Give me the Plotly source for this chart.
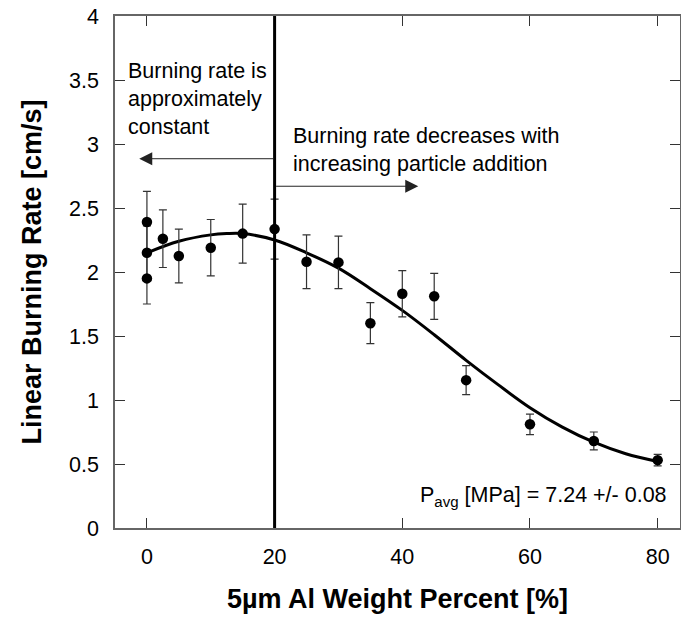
import plotly.graph_objects as go

# measured points
al_pct = [0, 0, 0, 2.5, 5, 10, 15, 20, 25, 30, 35, 40, 45, 50, 60, 70, 80]
rate = [2.39, 2.15, 1.95, 2.26, 2.125, 2.19, 2.30, 2.335, 2.08, 2.075, 1.60, 1.83, 1.81, 1.155, 0.81, 0.68, 0.53]
rate_err = [0.24, 0.21, 0.20, 0.225, 0.21, 0.22, 0.23, 0.235, 0.21, 0.205, 0.16, 0.18, 0.18, 0.113, 0.08, 0.07, 0.045]

# fitted trend
fit_x = [0, 5, 10, 12.5, 15, 20, 25, 30, 35, 40, 45, 50, 55, 60, 65, 70, 75, 80]
fit_y = [2.15, 2.24, 2.29, 2.30, 2.30, 2.25, 2.15, 2.03, 1.87, 1.70, 1.51, 1.31, 1.12, 0.94, 0.79, 0.67, 0.58, 0.52]

font = "Arial, Liberation Sans, sans-serif"

fig = go.Figure()
fig.add_trace(go.Scatter(x=fit_x, y=fit_y, mode="lines", line=dict(color="black", width=3, shape="spline"),
                         hoverinfo="skip"))
fig.add_trace(go.Scatter(x=al_pct, y=rate, mode="markers",
                         marker=dict(color="black", size=10.5),
                         error_y=dict(type="data", array=rate_err, color="#333", thickness=1.2, width=4)))

fig.add_shape(type="line", x0=20, x1=20, y0=0, y1=4, xref="x", yref="y",
              line=dict(color="black", width=3))

# region arrows, starting at the 20 % divider
fig.add_annotation(x=-1.2, y=2.885, ax=20, ay=2.885, xref="x", yref="y", axref="x", ayref="y",
                   text="", showarrow=True, arrowhead=2, arrowsize=2.6, arrowwidth=1, arrowcolor="#222")
fig.add_annotation(x=42.5, y=2.67, ax=20, ay=2.67, xref="x", yref="y", axref="x", ayref="y",
                   text="", showarrow=True, arrowhead=2, arrowsize=2.6, arrowwidth=1, arrowcolor="#222")

fig.add_annotation(x=-3.2, y=3.35, xref="x", yref="y", xanchor="left", yanchor="middle", align="left",
                   text="Burning rate is<br>approximately<br>constant", showarrow=False,
                   font=dict(family=font, size=21.5, color="black"))
fig.add_annotation(x=22.6, y=2.955, xref="x", yref="y", xanchor="left", yanchor="middle", align="left",
                   text="Burning rate decreases with<br>increasing particle addition", showarrow=False,
                   font=dict(family=font, size=21.5, color="black"))
fig.add_annotation(x=81.8, y=0.25, xref="x", yref="y", xanchor="right", yanchor="middle",
                   text="P<sub>avg</sub> [MPa] = 7.24 +/- 0.08", showarrow=False,
                   font=dict(family=font, size=21.5, color="black"))

fig.update_layout(
    width=681, height=620, showlegend=False,
    margin=dict(l=115, r=1, t=16, b=92),
    plot_bgcolor="white", paper_bgcolor="white",
    font=dict(family=font, color="black"),
)
fig.update_xaxes(range=[-5, 83.5], tickvals=[0, 20, 40, 60, 80], ticks="inside", ticklen=10,
                 tickcolor="#333", showline=True, linecolor="#666", linewidth=1.5, mirror="ticks",
                 showgrid=False, zeroline=False, tickfont=dict(size=21.5), ticklabelstandoff=8,
                 automargin=False,
                 title=dict(text="<b>5\u00b5m Al Weight Percent [%]</b>", font=dict(size=27), standoff=22))
fig.update_yaxes(range=[0, 4], dtick=0.5, ticks="inside", ticklen=10,
                 tickcolor="#333", showline=True, linecolor="#666", linewidth=1.5, mirror="ticks",
                 showgrid=False, zeroline=False, tickfont=dict(size=21.5), ticklabelstandoff=10,
                 automargin=False,
                 title=dict(text="<b>Linear Burning Rate [cm/s]</b>", font=dict(size=27), standoff=20))

# the page body has a default 8px margin; drop it so the figure fills the window
fig.write_html("out.html", config={"displayModeBar": False},
               post_script="document.body.style.margin='0px';")
